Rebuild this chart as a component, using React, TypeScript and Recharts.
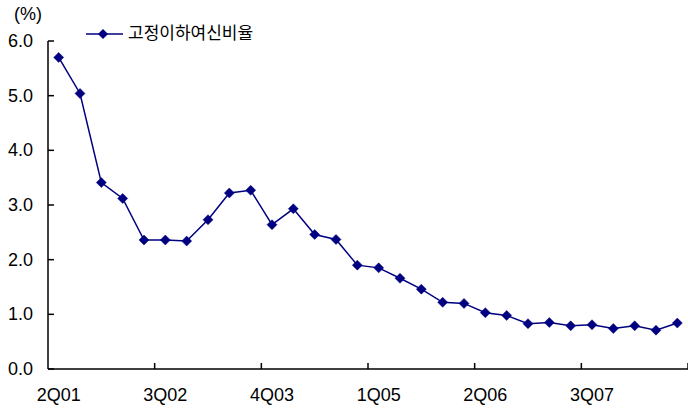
import React from "react";
import { LineChart, Line, XAxis, YAxis } from "recharts";

// Quarterly categories (2Q01 .. 3Q08)
const quarters = [
  "2Q01", "3Q01", "4Q01", "1Q02", "2Q02", "3Q02", "4Q02", "1Q03", "2Q03", "3Q03",
  "4Q03", "1Q04", "2Q04", "3Q04", "4Q04", "1Q05", "2Q05", "3Q05", "4Q05", "1Q06",
  "2Q06", "3Q06", "4Q06", "1Q07", "2Q07", "3Q07", "4Q07", "1Q08", "2Q08", "3Q08",
];

// 고정이하여신비율 (%)
const nplRatio = [
  5.7, 5.04, 3.41, 3.12, 2.36, 2.36, 2.34, 2.73, 3.22, 3.27,
  2.64, 2.93, 2.46, 2.37, 1.9, 1.85, 1.66, 1.46, 1.22, 1.2,
  1.03, 0.98, 0.83, 0.85, 0.79, 0.81, 0.74, 0.79, 0.71, 0.84,
];

const yTicks = [0, 1, 2, 3, 4, 5, 6];
const seriesName = "고정이하여신비율";

const data = quarters.map((q, i) => ({ quarter: q, value: nplRatio[i] }));

const NAVY = "#000080";
const FONT = '"Liberation Sans", Arial, "Noto Sans CJK KR", sans-serif';
const TICK_EVERY = 5;

const Diamond = (props: any) => {
  const { cx, cy } = props;
  if (cx == null || cy == null) return null;
  const r = 5;
  return (
    <polygon
      points={`${cx},${cy - r} ${cx + r},${cy} ${cx},${cy + r} ${cx - r},${cy}`}
      fill={NAVY}
      stroke={NAVY}
      strokeWidth={0.5}
    />
  );
};

// x tick: label centred on the category, tick mark on the boundary 5 quarters later (Excel style)
const XTick = (props: any) => {
  const x = Number(props.x);
  const y = Number(props.y);
  const { payload } = props;
  const half = Number(payload?.offset) || 640 / 60;
  const tx = x + (2 * TICK_EVERY - 1) * half;
  return (
    <g>
      <line x1={tx} y1={y} x2={tx} y2={y - 6} stroke="#000" strokeWidth={1.5} />
      <text x={x} y={y + 32} textAnchor="middle" fontSize={18} fontFamily={FONT} fill="#000">
        {payload.value}
      </text>
    </g>
  );
};

const YTick = (props: any) => {
  const x = Number(props.x);
  const y = Number(props.y);
  const { payload } = props;
  return (
    <g>
      <line x1={x} y1={y} x2={x + 6} y2={y} stroke="#000" strokeWidth={1.5} />
      <text x={x - 15} y={y + 6} textAnchor="end" fontSize={18} fontFamily={FONT} fill="#000">
        {Number(payload.value).toFixed(1)}
      </text>
    </g>
  );
};

export default function App() {
  return (
    <div style={{ position: "absolute", left: 0, top: 0, width: 688, height: 409, background: "#fff" }}>
      <LineChart
        width={688}
        height={409}
        data={data}
        margin={{ top: 41, right: 0, bottom: 0, left: 0 }}
      >
        <XAxis
          dataKey="quarter"
          scale="band"
          interval={TICK_EVERY - 1}
          height={40}
          tickLine={false}
          tickSize={0}
          tickMargin={0}
          axisLine={{ stroke: "#000", strokeWidth: 1.5 }}
          tick={<XTick />}
        />
        <YAxis
          width={48}
          domain={[0, 6]}
          ticks={yTicks}
          tickLine={false}
          tickSize={0}
          tickMargin={0}
          axisLine={{ stroke: "#000", strokeWidth: 1.5 }}
          tick={<YTick />}
        />
        <Line
          type="linear"
          dataKey="value"
          stroke={NAVY}
          strokeWidth={1.5}
          dot={<Diamond />}
          activeDot={false}
          isAnimationActive={false}
        />
      </LineChart>

      {/* unit label */}
      <div
        style={{
          position: "absolute",
          left: 14,
          top: 4,
          fontSize: 18,
          fontFamily: FONT,
          color: "#000",
          lineHeight: "20px",
        }}
      >
        (%)
      </div>

      {/* legend */}
      <div
        style={{
          position: "absolute",
          left: 86,
          top: 23,
          display: "flex",
          alignItems: "center",
          fontFamily: FONT,
          fontSize: 17,
          color: "#000",
          lineHeight: "22px",
        }}
      >
        <svg width={38} height={12}>
          <line x1={0} y1={6} x2={37} y2={6} stroke={NAVY} strokeWidth={1.5} />
          <polygon points="17,1 22,6 17,11 12,6" fill={NAVY} />
        </svg>
        <span style={{ marginLeft: 4 }}>{seriesName}</span>
      </div>
    </div>
  );
}
